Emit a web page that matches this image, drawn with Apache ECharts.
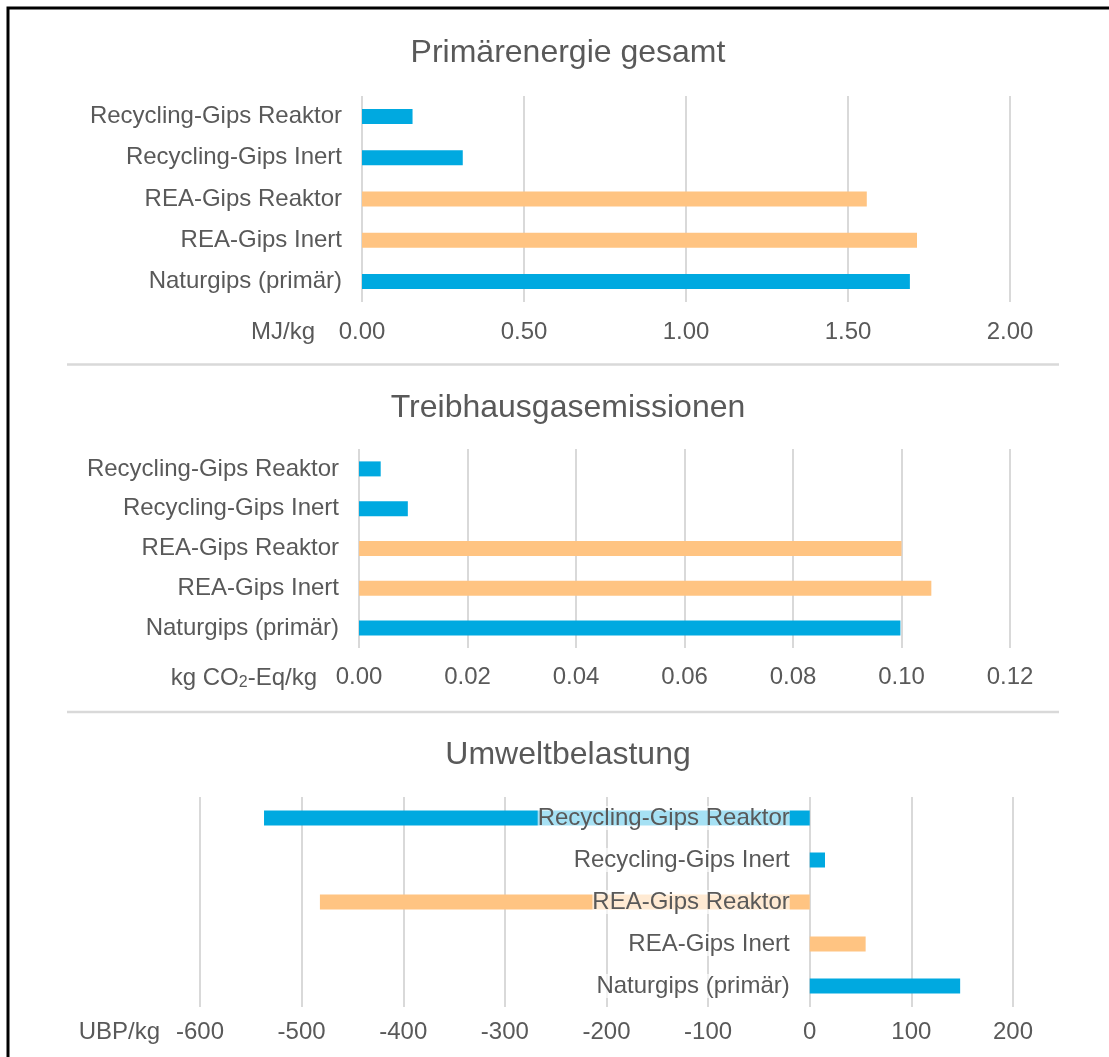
<!DOCTYPE html>
<html>
<head>
<meta charset="utf-8">
<title>Gips Vergleich</title>
<script src="https://cdn.jsdelivr.net/npm/echarts@6/dist/echarts.min.js"></script>
<style>
  html, body { margin: 0; padding: 0; background: #fff; }
  #chart { width: 1109px; height: 1057px; }
</style>
</head>
<body>
<div id="chart"></div>
<script>
// Kategorien von oben nach unten
const categories = [
  'Recycling-Gips Reaktor',
  'Recycling-Gips Inert',
  'REA-Gips Reaktor',
  'REA-Gips Inert',
  'Naturgips (primär)'
]
// Werte
const primaerenergie = [0.156, 0.311, 1.558, 1.713, 1.691]
const treibhausgas = [0.004, 0.009, 0.100, 0.1055, 0.0998]
const umweltbelastung = [-537, 15, -482, 55, 148]

const titles = ['Primärenergie gesamt', 'Treibhausgasemissionen', 'Umweltbelastung']

const blue = '#00A9E0'
const orange = '#FFC482'
const barColors = [blue, blue, orange, orange, blue]

const font = "'Liberation Sans', Arial, sans-serif"
const textColor = '#595959'
const gridColor = '#D9D9D9'
const fs = 24

const myEcharts = echarts.init(document.getElementById('chart'))

const makeBars = (values) => values.map((v, i) => ({
  value: v,
  itemStyle: { color: barColors[i] }
}))

const yAxisBase = (gridIndex) => ({
  type: 'category',
  gridIndex: gridIndex,
  data: categories,
  inverse: true,
  z: 3,
  axisLine: { show: false, onZero: false },
  axisTick: { show: false },
  axisLabel: {
    margin: 20,
    color: textColor,
    fontFamily: font,
    fontSize: fs,
    backgroundColor: 'rgba(255,255,255,0.65)'
  }
})

const xAxisBase = (gridIndex, min, max, interval, digits, margin) => ({
  type: 'value',
  gridIndex: gridIndex,
  min: min,
  max: max,
  interval: interval,
  axisLine: { show: false },
  axisTick: { show: false },
  splitLine: { lineStyle: { color: gridColor, width: 2 } },
  axisLabel: {
    margin: margin,
    color: textColor,
    fontFamily: font,
    fontSize: fs,
    formatter: (v) => v.toFixed(digits)
  },
  nameLocation: 'start',
  nameTextStyle: {
    color: textColor,
    fontFamily: font,
    fontSize: fs,
    verticalAlign: 'top',
    padding: [margin, 0, 0, 0]
  }
})

const option = {
  backgroundColor: '#fff',
  animation: false,
  title: [
    { text: titles[0], top: 32 },
    { text: titles[1], top: 387 },
    { text: titles[2], top: 734 }
  ].map((t) => ({
    ...t,
    left: 563,
    textAlign: 'center',
    textStyle: { color: textColor, fontFamily: font, fontSize: 32, fontWeight: 'normal' }
  })),
  grid: [
    { left: 362, right: 99, top: 96, height: 206, outerBoundsMode: 'none' },
    { left: 359, right: 99, top: 449, height: 199, outerBoundsMode: 'none' },
    { left: 200, right: 96, top: 797, height: 210, outerBoundsMode: 'none' }
  ],
  xAxis: [
    { ...xAxisBase(0, 0, 2, 0.5, 2, 18), name: 'MJ/kg', nameGap: 47 },
    {
      ...xAxisBase(1, 0, 0.12, 0.02, 2, 17),
      name: '{a|kg CO}{b|2}{a|-Eq/kg}',
      nameGap: 42
    },
    { ...xAxisBase(2, -600, 200, 100, 0, 13), name: 'UBP/kg', nameGap: 40 }
  ],
  yAxis: [yAxisBase(0), yAxisBase(1), yAxisBase(2)],
  series: [
    { type: 'bar', xAxisIndex: 0, yAxisIndex: 0, barWidth: 15, data: makeBars(primaerenergie) },
    { type: 'bar', xAxisIndex: 1, yAxisIndex: 1, barWidth: 15, data: makeBars(treibhausgas) },
    { type: 'bar', xAxisIndex: 2, yAxisIndex: 2, barWidth: 15, data: makeBars(umweltbelastung) }
  ],
  graphic: [
    // Rahmen links und oben
    {
      type: 'polyline',
      shape: { points: [[8, 1060], [8, 8], [1112, 8]] },
      style: { stroke: '#000', lineWidth: 3, fill: null }
    },
    // Trennlinien
    {
      type: 'line',
      shape: { x1: 67, y1: 364.5, x2: 1059, y2: 364.5 },
      style: { stroke: gridColor, lineWidth: 2.5 }
    },
    {
      type: 'line',
      shape: { x1: 67, y1: 712, x2: 1059, y2: 712 },
      style: { stroke: gridColor, lineWidth: 2.5 }
    }
  ]
}

// CO2 mit tiefgestellter 2
option.xAxis[1].nameTextStyle = {
  ...option.xAxis[1].nameTextStyle,
  rich: {
    a: { color: textColor, fontFamily: font, fontSize: fs },
    b: { color: textColor, fontFamily: font, fontSize: 16, padding: [10, 0, 0, 0] }
  }
}

myEcharts.setOption(option)

// Kategorieachse im dritten Diagramm an die Nulllinie schieben (Beschriftung wie im Original)
const zeroX = myEcharts.convertToPixel({ xAxisIndex: 2 }, 0)
const startX = myEcharts.convertToPixel({ xAxisIndex: 2 }, -600)
myEcharts.setOption({ yAxis: [{}, {}, { offset: startX - zeroX }] })
</script>
</body>
</html>
